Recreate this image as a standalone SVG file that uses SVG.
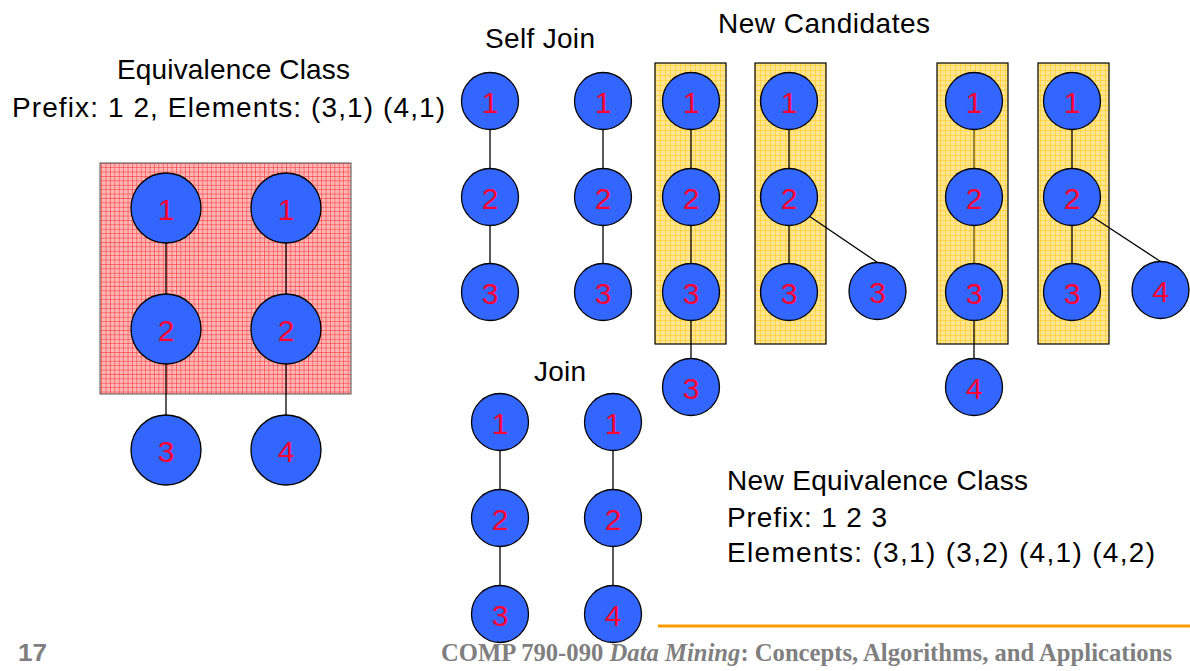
<svg xmlns="http://www.w3.org/2000/svg" width="1190" height="671" viewBox="0 0 1190 671">
  <defs>
    <!-- fine red grid texture for the prefix class box -->
    <pattern id="pinkGrid" width="4.4" height="4.4" patternUnits="userSpaceOnUse">
      <rect width="4.4" height="4.4" fill="#FFBCBC"/>
      <path d="M0 0.4H4.4M0.4 0V4.4" stroke="#FF5050" stroke-width="0.8"/>
      <rect x="2.2" y="2.2" width="0.8" height="0.8" fill="#FF8080"/>
    </pattern>
    <!-- yellow grid texture for candidate boxes -->
    <pattern id="yellowGrid" width="5" height="5" patternUnits="userSpaceOnUse">
      <rect width="5" height="5" fill="#FFE592"/>
      <path d="M0 0.4H5M0.4 0V5" stroke="#FFCB20" stroke-width="0.7"/>
    </pattern>
  </defs>
  <style>
    .lbl { font-family: "Liberation Sans", Arial, sans-serif; font-size: 28px; fill: #000; }
    .node circle { fill: #3366FF; stroke: #000; stroke-width: 1.3; }
    .node text { font-family: "Liberation Sans", Arial, sans-serif; font-size: 30px; fill: #FF0033; text-anchor: middle; }
    .edges line { stroke: #000; stroke-width: 1.3; }
    .edges line.dim { stroke: #5E4E16; }
    .cand { fill: url(#yellowGrid); stroke: #000; stroke-width: 1.2; }
    .footer { font-family: "Liberation Serif", "Times New Roman", serif; font-size: 25px; font-weight: bold; fill: #7F7F7F; }
  </style>

  <rect width="1190" height="671" fill="#FFFFFF"/>

  <!-- headings -->
  <text class="lbl" x="117" y="79" textLength="233">Equivalence Class</text>
  <text class="lbl" x="12" y="117" textLength="433">Prefix: 1 2, Elements: (3,1) (4,1)</text>
  <text class="lbl" x="485" y="48" textLength="110">Self Join</text>
  <text class="lbl" x="718" y="33" textLength="212">New Candidates</text>
  <text class="lbl" x="534" y="381" textLength="52">Join</text>
  <text class="lbl" x="727" y="490" textLength="301">New Equivalence Class</text>
  <text class="lbl" x="727" y="527" textLength="160">Prefix: 1 2 3</text>
  <text class="lbl" x="727" y="562" textLength="428">Elements: (3,1) (3,2) (4,1) (4,2)</text>

  <!-- background boxes -->
  <rect id="prefix-box" x="100" y="163" width="251" height="231" fill="url(#pinkGrid)" stroke="#555" stroke-width="1"/>
  <rect id="cand-a" class="cand" x="655" y="63" width="71" height="281"/>
  <rect id="cand-b" class="cand" x="755" y="63" width="71" height="281"/>
  <rect id="cand-c" class="cand" x="937" y="63" width="71" height="281" stroke="#4A4030"/>
  <rect id="cand-d" class="cand" x="1038" y="63" width="71" height="281"/>

  <!-- connectors -->
  <g id="edges" class="edges">
    <!-- prefix class -->
    <line x1="166" y1="243" x2="166" y2="294"/>
    <line x1="166" y1="364" x2="166" y2="415"/>
    <line x1="286" y1="243" x2="286" y2="294"/>
    <line x1="286" y1="364" x2="286" y2="415"/>
    <!-- self join -->
    <line x1="490" y1="129.5" x2="490" y2="168.5"/>
    <line x1="490" y1="225.5" x2="490" y2="263.5"/>
    <line x1="603" y1="129.5" x2="603" y2="168.5"/>
    <line x1="603" y1="225.5" x2="603" y2="263.5"/>
    <!-- candidates -->
    <line x1="691" y1="129.5" x2="691" y2="168.5"/>
    <line x1="691" y1="225.5" x2="691" y2="263.5"/>
    <line x1="691" y1="320.5" x2="691" y2="358.5"/>
    <line x1="789" y1="129.5" x2="789" y2="168.5"/>
    <line x1="789" y1="225.5" x2="789" y2="263.5"/>
    <line x1="809" y1="216" x2="877.5" y2="262.5"/>
    <line class="dim" x1="974" y1="129.5" x2="974" y2="168.5"/>
    <line class="dim" x1="974" y1="225.5" x2="974" y2="263.5"/>
    <line x1="974" y1="320.5" x2="974" y2="358.5"/>
    <line x1="1072" y1="129.5" x2="1072" y2="168.5"/>
    <line x1="1072" y1="225.5" x2="1072" y2="263.5"/>
    <line x1="1092" y1="216.5" x2="1160.5" y2="261.5"/>
    <!-- join -->
    <line x1="500" y1="450.5" x2="500" y2="490"/>
    <line x1="500" y1="546.5" x2="500" y2="586"/>
    <line x1="613" y1="450.5" x2="613" y2="490"/>
    <line x1="613" y1="546.5" x2="613" y2="586"/>
  </g>

  <!-- prefix class nodes -->
  <g id="p-a1" class="node"><circle cx="166" cy="208" r="35"/><text x="166" y="220">1</text></g>
  <g id="p-a2" class="node"><circle cx="166" cy="329" r="35"/><text x="166" y="341">2</text></g>
  <g id="p-a3" class="node"><circle cx="166" cy="450" r="35"/><text x="166" y="462">3</text></g>
  <g id="p-b1" class="node"><circle cx="286" cy="208" r="35"/><text x="286" y="220">1</text></g>
  <g id="p-b2" class="node"><circle cx="286" cy="329" r="35"/><text x="286" y="341">2</text></g>
  <g id="p-b4" class="node"><circle cx="286" cy="450" r="35"/><text x="286" y="462">4</text></g>

  <!-- self join nodes -->
  <g id="s-a1" class="node"><circle cx="490" cy="101" r="28.5"/><text x="490" y="113">1</text></g>
  <g id="s-a2" class="node"><circle cx="490" cy="197" r="28.5"/><text x="490" y="209">2</text></g>
  <g id="s-a3" class="node"><circle cx="490" cy="292" r="28.5"/><text x="490" y="304">3</text></g>
  <g id="s-b1" class="node"><circle cx="603" cy="101" r="28.5"/><text x="603" y="113">1</text></g>
  <g id="s-b2" class="node"><circle cx="603" cy="197" r="28.5"/><text x="603" y="209">2</text></g>
  <g id="s-b3" class="node"><circle cx="603" cy="292" r="28.5"/><text x="603" y="304">3</text></g>

  <!-- candidate nodes -->
  <g id="c-a1" class="node"><circle cx="691" cy="101" r="28.5"/><text x="691" y="113">1</text></g>
  <g id="c-a2" class="node"><circle cx="691" cy="197" r="28.5"/><text x="691" y="209">2</text></g>
  <g id="c-a3" class="node"><circle cx="691" cy="292" r="28.5"/><text x="691" y="304">3</text></g>
  <g id="c-a4" class="node"><circle cx="691" cy="387" r="28.5"/><text x="691" y="399">3</text></g>
  <g id="c-b1" class="node"><circle cx="789" cy="101" r="28.5"/><text x="789" y="113">1</text></g>
  <g id="c-b2" class="node"><circle cx="789" cy="197" r="28.5"/><text x="789" y="209">2</text></g>
  <g id="c-b3" class="node"><circle cx="789" cy="292" r="28.5"/><text x="789" y="304">3</text></g>
  <g id="c-b4" class="node"><circle cx="877.5" cy="291" r="28.5"/><text x="877.5" y="303">3</text></g>
  <g id="c-c1" class="node"><circle cx="974" cy="101" r="28.5"/><text x="974" y="113">1</text></g>
  <g id="c-c2" class="node"><circle cx="974" cy="197" r="28.5"/><text x="974" y="209">2</text></g>
  <g id="c-c3" class="node"><circle cx="974" cy="292" r="28.5"/><text x="974" y="304">3</text></g>
  <g id="c-c4" class="node"><circle cx="974" cy="387" r="28.5"/><text x="974" y="399">4</text></g>
  <g id="c-d1" class="node"><circle cx="1072" cy="101" r="28.5"/><text x="1072" y="113">1</text></g>
  <g id="c-d2" class="node"><circle cx="1072" cy="197" r="28.5"/><text x="1072" y="209">2</text></g>
  <g id="c-d3" class="node"><circle cx="1072" cy="292" r="28.5"/><text x="1072" y="304">3</text></g>
  <g id="c-d4" class="node"><circle cx="1160.5" cy="290" r="28.5"/><text x="1160.5" y="302">4</text></g>

  <!-- join nodes -->
  <g id="j-a1" class="node"><circle cx="500" cy="422" r="28.5"/><text x="500" y="434">1</text></g>
  <g id="j-a2" class="node"><circle cx="500" cy="518" r="28.5"/><text x="500" y="530">2</text></g>
  <g id="j-a3" class="node"><circle cx="500" cy="614" r="28.5"/><text x="500" y="626">3</text></g>
  <g id="j-b1" class="node"><circle cx="613" cy="422" r="28.5"/><text x="613" y="434">1</text></g>
  <g id="j-b2" class="node"><circle cx="613" cy="518" r="28.5"/><text x="613" y="530">2</text></g>
  <g id="j-b4" class="node"><circle cx="613" cy="614" r="28.5"/><text x="613" y="626">4</text></g>

  <!-- slide footer -->
  <line x1="658" y1="626" x2="1190" y2="626" stroke="#FF9900" stroke-width="3"/>
  <text x="18" y="661" font-family="'Liberation Sans', Arial, sans-serif" font-size="24" font-weight="bold" fill="#7F7F7F" textLength="29" lengthAdjust="spacingAndGlyphs">17</text>
  <text class="footer" x="441" y="661" textLength="731" lengthAdjust="spacingAndGlyphs">COMP 790-090 <tspan font-style="italic">Data Mining</tspan>: Concepts, Algorithms, and Applications</text>
</svg>
